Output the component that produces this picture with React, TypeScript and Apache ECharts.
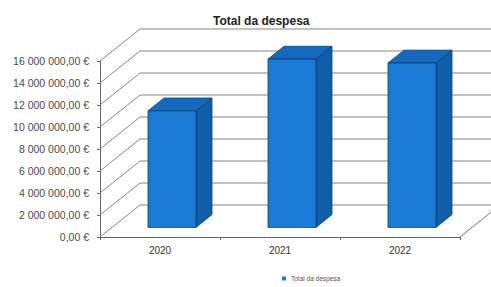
import React, { useEffect, useRef } from "react";
import * as echarts from "echarts";

const categories = ["2020", "2021", "2022"];
const totals = [10600000, 15300000, 14950000];
const seriesName = "Total da despesa";
const yMin = 0;
const yMax = 16000000;
const yStep = 2000000;
const tickValues = [0, 2000000, 4000000, 6000000, 8000000, 10000000, 12000000, 14000000, 16000000];

const DX = 40;
const DY = -32;
const F0 = 0.3;
const F1 = 0.7;
const BAR_W = 0.4;

const fmt = (v: number) => {
  const s = v.toFixed(2);
  const [i, d] = s.split(".");
  return i.replace(/\B(?=(\d{3})+(?!\d))/g, " ") + "," + d + " €";
};

export default function App() {
  const ref = useRef<HTMLDivElement>(null);
  useEffect(() => {
    if (!ref.current) return;
    const chart = echarts.init(ref.current, undefined, { renderer: "svg" });
    const font = "'Liberation Sans', Arial, sans-serif";
    chart.setOption({
      animation: false,
      backgroundColor: "#ffffff",
      title: {
        text: "Total da despesa",
        left: 208,
        top: 10,
        textStyle: { fontSize: 12, fontWeight: "bold", color: "#222", fontFamily: font },
      },
      legend: {
        data: [seriesName],
        left: 280,
        top: 273,
        padding: 2,
        icon: "rect",
        itemWidth: 4,
        itemHeight: 4,
        itemGap: 2,
        textStyle: { fontSize: 6.5, color: "#555", fontFamily: font },
      },
      grid: { left: 100, right: 31, top: 61, bottom: 50 },
      xAxis: {
        type: "category",
        data: categories,
        axisLine: { show: true, lineStyle: { color: "#666", width: 1 } },
        axisTick: { show: true, length: 3, lineStyle: { color: "#666" } },
        axisLabel: { fontSize: 10, color: "#333", margin: 8, fontFamily: font },
        splitLine: { show: false },
      },
      yAxis: {
        type: "value",
        min: yMin,
        max: yMax,
        interval: yStep,
        axisLine: { show: true, lineStyle: { color: "#666", width: 1 } },
        axisTick: { show: true, length: 3, lineStyle: { color: "#666" } },
        axisLabel: { fontSize: 10.5, color: "#4a4a4a", margin: 11, formatter: fmt, fontFamily: font },
        splitLine: { show: false },
      },
      series: [
        {
          type: "custom",
          z: 1,
          silent: true,
          data: tickValues.map((v) => [0, v]),
          renderItem: (params: any, api: any) => {
            const cs = params.coordSys;
            const y = api.coord([0, api.value(1)])[1];
            const x0 = cs.x;
            const x1 = cs.x + cs.width;
            const children: any[] = [
              {
                type: "polyline",
                shape: {
                  points: [
                    [x0, y],
                    [x0 + DX, y + DY],
                    [x1 + DX, y + DY],
                  ],
                },
                style: { stroke: "#858585", lineWidth: 1, fill: "none" },
              },
            ];
            if (api.value(1) === 0) {
              children.push({
                type: "line",
                shape: { x1: x1, y1: y, x2: x1 + DX, y2: y + DY },
                style: { stroke: "#777", lineWidth: 1 },
              });
            }
            return { type: "group", children };
          },
        },
        {
          type: "custom",
          name: seriesName,
          z: 3,
          itemStyle: { color: "#1878d4" },
          data: totals.map((v, i) => [i, v]),
          renderItem: (params: any, api: any) => {
            const idx = api.value(0);
            const val = api.value(1);
            const base = api.coord([idx, 0]);
            const top = api.coord([idx, val]);
            const band = api.size([1, 0])[0];
            const w = band * BAR_W;
            const ox = F0 * DX;
            const oy = F0 * DY;
            const dx = (F1 - F0) * DX;
            const dy = (F1 - F0) * DY;
            const xl = base[0] - w / 2 + ox;
            const xr = base[0] + w / 2 + ox;
            const yb = base[1] + oy;
            const yt = top[1] + oy;
            const stroke = "#0b3f78";
            return {
              type: "group",
              children: [
                {
                  type: "polygon",
                  shape: { points: [[xr, yt], [xr + dx, yt + dy], [xr + dx, yb + dy], [xr, yb]] },
                  style: { fill: "#115fa8", stroke, lineWidth: 0.8 },
                },
                {
                  type: "polygon",
                  shape: { points: [[xl, yt], [xr, yt], [xr + dx, yt + dy], [xl + dx, yt + dy]] },
                  style: { fill: "#1569bd", stroke, lineWidth: 0.8 },
                },
                {
                  type: "rect",
                  shape: { x: xl, y: yt, width: xr - xl, height: yb - yt },
                  style: { fill: "#1a7ad6", stroke, lineWidth: 0.8 },
                },
              ],
            };
          },
        },
      ],
    });
    return () => chart.dispose();
  }, []);
  return <div ref={ref} style={{ width: 491, height: 287, position: "absolute", left: 0, top: 0 }} />;
}
